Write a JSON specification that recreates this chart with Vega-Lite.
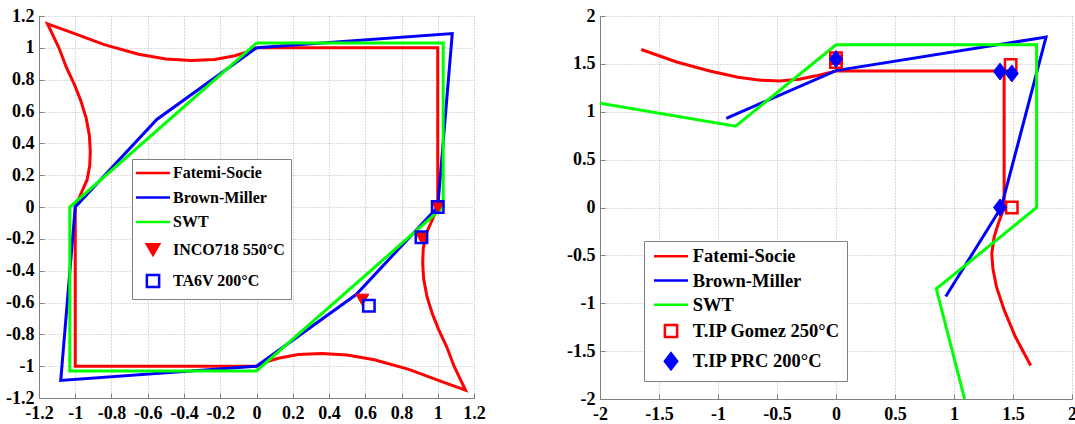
{
  "$schema": "https://vega.github.io/schema/vega-lite/v6.json",
  "autosize": {"type": "pad"},
  "padding": {"left": 5, "top": 7, "right": 0, "bottom": 0},
  "background": "white",
  "config": {
    "font": "Liberation Serif",
    "view": {"stroke": null},
    "axis": {"labelOverlap": false, "labelSeparation": -100}
  },
  "bounds": "flush",
  "spacing": 126,
  "resolve": {
    "scale": {"color": "independent", "shape": "independent", "fill": "independent"},
    "legend": {"color": "independent", "shape": "independent", "fill": "independent"}
  },
  "datasets": {
    "leftLines": [
      {"series": "Fatemi-Socie", "ord": 0, "x": 0, "y": 1},
      {"series": "Fatemi-Socie", "ord": 1, "x": 1, "y": 1},
      {"series": "Fatemi-Socie", "ord": 2, "x": 1, "y": 0},
      {"series": "Fatemi-Socie", "ord": 3, "x": 0.97, "y": -0.08},
      {"series": "Fatemi-Socie", "ord": 4, "x": 0.935, "y": -0.17},
      {"series": "Fatemi-Socie", "ord": 5, "x": 0.92, "y": -0.26},
      {"series": "Fatemi-Socie", "ord": 6, "x": 0.917, "y": -0.35},
      {"series": "Fatemi-Socie", "ord": 7, "x": 0.922, "y": -0.45},
      {"series": "Fatemi-Socie", "ord": 8, "x": 0.94, "y": -0.56},
      {"series": "Fatemi-Socie", "ord": 9, "x": 0.97, "y": -0.67},
      {"series": "Fatemi-Socie", "ord": 10, "x": 1.005, "y": -0.77},
      {"series": "Fatemi-Socie", "ord": 11, "x": 1.05, "y": -0.88},
      {"series": "Fatemi-Socie", "ord": 12, "x": 1.09, "y": -1.0},
      {"series": "Fatemi-Socie", "ord": 13, "x": 1.153, "y": -1.151},
      {"series": "Fatemi-Socie", "ord": 14, "x": 1.03, "y": -1.1},
      {"series": "Fatemi-Socie", "ord": 15, "x": 0.84, "y": -1.02},
      {"series": "Fatemi-Socie", "ord": 16, "x": 0.65, "y": -0.96},
      {"series": "Fatemi-Socie", "ord": 17, "x": 0.5, "y": -0.93},
      {"series": "Fatemi-Socie", "ord": 18, "x": 0.36, "y": -0.92},
      {"series": "Fatemi-Socie", "ord": 19, "x": 0.23, "y": -0.927},
      {"series": "Fatemi-Socie", "ord": 20, "x": 0.12, "y": -0.95},
      {"series": "Fatemi-Socie", "ord": 21, "x": 0.05, "y": -0.975},
      {"series": "Fatemi-Socie", "ord": 22, "x": 0, "y": -1},
      {"series": "Fatemi-Socie", "ord": 23, "x": -1, "y": -1},
      {"series": "Fatemi-Socie", "ord": 24, "x": -1, "y": 0},
      {"series": "Fatemi-Socie", "ord": 25, "x": -0.97, "y": 0.08},
      {"series": "Fatemi-Socie", "ord": 26, "x": -0.935, "y": 0.17},
      {"series": "Fatemi-Socie", "ord": 27, "x": -0.92, "y": 0.26},
      {"series": "Fatemi-Socie", "ord": 28, "x": -0.917, "y": 0.35},
      {"series": "Fatemi-Socie", "ord": 29, "x": -0.922, "y": 0.45},
      {"series": "Fatemi-Socie", "ord": 30, "x": -0.94, "y": 0.56},
      {"series": "Fatemi-Socie", "ord": 31, "x": -0.97, "y": 0.67},
      {"series": "Fatemi-Socie", "ord": 32, "x": -1.005, "y": 0.77},
      {"series": "Fatemi-Socie", "ord": 33, "x": -1.05, "y": 0.88},
      {"series": "Fatemi-Socie", "ord": 34, "x": -1.09, "y": 1.0},
      {"series": "Fatemi-Socie", "ord": 35, "x": -1.153, "y": 1.151},
      {"series": "Fatemi-Socie", "ord": 36, "x": -1.03, "y": 1.1},
      {"series": "Fatemi-Socie", "ord": 37, "x": -0.84, "y": 1.02},
      {"series": "Fatemi-Socie", "ord": 38, "x": -0.65, "y": 0.96},
      {"series": "Fatemi-Socie", "ord": 39, "x": -0.5, "y": 0.93},
      {"series": "Fatemi-Socie", "ord": 40, "x": -0.36, "y": 0.92},
      {"series": "Fatemi-Socie", "ord": 41, "x": -0.23, "y": 0.927},
      {"series": "Fatemi-Socie", "ord": 42, "x": -0.12, "y": 0.95},
      {"series": "Fatemi-Socie", "ord": 43, "x": -0.05, "y": 0.975},
      {"series": "Fatemi-Socie", "ord": 44, "x": 0, "y": 1},
      {"series": "Brown-Miller", "ord": 0, "x": 0, "y": 1},
      {"series": "Brown-Miller", "ord": 1, "x": 1.08, "y": 1.09},
      {"series": "Brown-Miller", "ord": 2, "x": 1, "y": 0},
      {"series": "Brown-Miller", "ord": 3, "x": 0.55, "y": -0.55},
      {"series": "Brown-Miller", "ord": 4, "x": 0, "y": -1},
      {"series": "Brown-Miller", "ord": 5, "x": -1.08, "y": -1.09},
      {"series": "Brown-Miller", "ord": 6, "x": -1, "y": 0},
      {"series": "Brown-Miller", "ord": 7, "x": -0.55, "y": 0.55},
      {"series": "Brown-Miller", "ord": 8, "x": 0, "y": 1},
      {"series": "SWT", "ord": 0, "x": 0, "y": 1.03},
      {"series": "SWT", "ord": 1, "x": 1.03, "y": 1.03},
      {"series": "SWT", "ord": 2, "x": 1.03, "y": 0},
      {"series": "SWT", "ord": 3, "x": 0, "y": -1.03},
      {"series": "SWT", "ord": 4, "x": -1.03, "y": -1.03},
      {"series": "SWT", "ord": 5, "x": -1.03, "y": 0},
      {"series": "SWT", "ord": 6, "x": 0, "y": 1.03}
    ],
    "leftPoints": [
      {"series": "INCO718 550°C", "x": 1, "y": 0},
      {"series": "INCO718 550°C", "x": 0.91, "y": -0.19},
      {"series": "INCO718 550°C", "x": 0.584, "y": -0.583},
      {"series": "TA6V 200°C", "x": 1, "y": 0},
      {"series": "TA6V 200°C", "x": 0.91, "y": -0.19},
      {"series": "TA6V 200°C", "x": 0.62, "y": -0.62}
    ],
    "rightLines": [
      {"series": "Fatemi-Socie", "ord": 0, "x": -1.65, "y": 1.65},
      {"series": "Fatemi-Socie", "ord": 1, "x": -1.35, "y": 1.52},
      {"series": "Fatemi-Socie", "ord": 2, "x": -1.07, "y": 1.425},
      {"series": "Fatemi-Socie", "ord": 3, "x": -0.83, "y": 1.36},
      {"series": "Fatemi-Socie", "ord": 4, "x": -0.64, "y": 1.33},
      {"series": "Fatemi-Socie", "ord": 5, "x": -0.48, "y": 1.32},
      {"series": "Fatemi-Socie", "ord": 6, "x": -0.31, "y": 1.34},
      {"series": "Fatemi-Socie", "ord": 7, "x": -0.17, "y": 1.375},
      {"series": "Fatemi-Socie", "ord": 8, "x": 0, "y": 1.425},
      {"series": "Fatemi-Socie", "ord": 9, "x": 1.425, "y": 1.425},
      {"series": "Fatemi-Socie", "ord": 10, "x": 1.425, "y": 0},
      {"series": "Fatemi-Socie", "ord": 11, "x": 1.375, "y": -0.17},
      {"series": "Fatemi-Socie", "ord": 12, "x": 1.34, "y": -0.31},
      {"series": "Fatemi-Socie", "ord": 13, "x": 1.32, "y": -0.48},
      {"series": "Fatemi-Socie", "ord": 14, "x": 1.33, "y": -0.64},
      {"series": "Fatemi-Socie", "ord": 15, "x": 1.36, "y": -0.83},
      {"series": "Fatemi-Socie", "ord": 16, "x": 1.425, "y": -1.07},
      {"series": "Fatemi-Socie", "ord": 17, "x": 1.52, "y": -1.35},
      {"series": "Fatemi-Socie", "ord": 18, "x": 1.65, "y": -1.65},
      {"series": "Brown-Miller", "ord": 0, "x": -0.93, "y": 0.93},
      {"series": "Brown-Miller", "ord": 1, "x": 0, "y": 1.43},
      {"series": "Brown-Miller", "ord": 2, "x": 1.78, "y": 1.78},
      {"series": "Brown-Miller", "ord": 3, "x": 1.4, "y": 0},
      {"series": "Brown-Miller", "ord": 4, "x": 0.93, "y": -0.93},
      {"series": "SWT", "ord": 0, "x": -2, "y": 1.09},
      {"series": "SWT", "ord": 1, "x": -0.85, "y": 0.85},
      {"series": "SWT", "ord": 2, "x": 0, "y": 1.7},
      {"series": "SWT", "ord": 3, "x": 1.7, "y": 1.7},
      {"series": "SWT", "ord": 4, "x": 1.7, "y": 0},
      {"series": "SWT", "ord": 5, "x": 0.85, "y": -0.85},
      {"series": "SWT", "ord": 6, "x": 1.09, "y": -2}
    ],
    "rightPoints": [
      {"series": "T.IP Gomez 250°C", "x": 0, "y": 1.56},
      {"series": "T.IP Gomez 250°C", "x": 0, "y": 1.52},
      {"series": "T.IP Gomez 250°C", "x": 1.48, "y": 1.49},
      {"series": "T.IP Gomez 250°C", "x": 1.49, "y": 0},
      {"series": "T.IP PRC 200°C", "x": 0, "y": 1.55},
      {"series": "T.IP PRC 200°C", "x": 1.39, "y": 1.42},
      {"series": "T.IP PRC 200°C", "x": 1.49, "y": 1.4},
      {"series": "T.IP PRC 200°C", "x": 1.39, "y": 0}
    ]
  },
  "hconcat": [
    {
      "width": 435,
      "height": 382,
      "resolve": {"axis": {"x": "independent", "y": "independent"}},
      "layer": [
        {
          "data": {"name": "leftLines"},
          "mark": {"type": "line", "strokeWidth": 3, "clip": true},
          "encoding": {
            "x": {"field": "x", "type": "quantitative", "scale": {"domain": [-1.2, 1.2], "nice": false, "zero": false},
              "axis": {"orient": "bottom", "values": [-1.2, -0.8, -0.4, 0, 0.4, 0.8, 1.2], "title": null,
                "labelFont": "Liberation Serif", "labelFontWeight": "bold", "labelFontSize": 18, "labelColor": "#000000",
                "labelOverlap": false, "labelFlush": false, "labelBound": false, "labelPadding": 11, "labelExpr": "'' + datum.value",
                "domainColor": "#808080", "tickColor": "#808080", "tickSize": -5,
                "grid": true, "gridColor": "#b4b4b4", "gridDash": [1, 2], "gridWidth": 1}},
            "y": {"field": "y", "type": "quantitative", "scale": {"domain": [-1.2, 1.2], "nice": false, "zero": false},
              "axis": {"orient": "left", "values": [-1.2, -0.8, -0.4, 0, 0.4, 0.8, 1.2], "title": null,
                "labelFont": "Liberation Serif", "labelFontWeight": "bold", "labelFontSize": 18, "labelColor": "#000000",
                "labelOverlap": false, "labelFlush": false, "labelBound": false, "labelPadding": 10, "labelExpr": "'' + datum.value",
                "domainColor": "#808080", "tickColor": "#808080", "tickSize": -5,
                "grid": true, "gridColor": "#b4b4b4", "gridDash": [1, 2], "gridWidth": 1}},
            "order": {"field": "ord", "type": "quantitative"},
            "color": {
              "field": "series", "type": "nominal",
              "scale": {"domain": ["Fatemi-Socie", "Brown-Miller", "SWT", "INCO718 550°C", "TA6V 200°C"], "range": ["#ff0000", "#0000ff", "#00ff00", "#ff0000", "#0000ff"]},
              "legend": {
                "title": null, "orient": "none", "legendX": 93, "legendY": 143,
                "labelFont": "Liberation Serif", "labelFontSize": 16, "labelFontWeight": "bold", "labelColor": "#000000",
                "symbolSize": 150, "symbolStrokeWidth": 2.5, "symbolOffset": 7, "labelOffset": 12, "symbolOpacity": 1,
                "rowPadding": 8.5, "padding": 6, "strokeColor": "#808080", "fillColor": "#ffffff", "cornerRadius": 0,
                "labelLimit": 400, "labelExpr": "datum.label + '\u00a0\u00a0\u00a0\u00a0\u00a0\u00a0\u00a0\u00a0\u00a0\u00a0'"
              }
            }
          }
        },
        {
          "data": {"name": "leftPoints"},
          "transform": [{"filter": "datum.series === 'INCO718 550°C'"}],
          "mark": {"type": "point", "filled": false, "size": 170, "strokeWidth": 1, "opacity": 1},
          "encoding": {
            "x": {"field": "x", "type": "quantitative",
              "axis": {"orient": "bottom", "values": [-1, -0.6, -0.2, 0.2, 0.6, 1], "title": null,
                "labelFont": "Liberation Serif", "labelFontWeight": "bold", "labelFontSize": 18, "labelColor": "#000000",
                "labelOverlap": false, "labelFlush": false, "labelBound": false, "labelPadding": 11, "labelExpr": "'' + datum.value",
                "domainColor": "#808080", "tickColor": "#808080", "tickSize": -5,
                "grid": true, "gridColor": "#b4b4b4", "gridDash": [1, 2], "gridWidth": 1}},
            "y": {"field": "y", "type": "quantitative",
              "axis": {"orient": "left", "values": [-1, -0.6, -0.2, 0.2, 0.6, 1], "title": null,
                "labelFont": "Liberation Serif", "labelFontWeight": "bold", "labelFontSize": 18, "labelColor": "#000000",
                "labelOverlap": false, "labelFlush": false, "labelBound": false, "labelPadding": 10, "labelExpr": "'' + datum.value",
                "domainColor": "#808080", "tickColor": "#808080", "tickSize": -5,
                "grid": true, "gridColor": "#b4b4b4", "gridDash": [1, 2], "gridWidth": 1}},
            "color": {"field": "series", "type": "nominal"},
            "fill": {
              "field": "series", "type": "nominal",
              "scale": {"domain": ["Fatemi-Socie", "Brown-Miller", "SWT", "INCO718 550°C", "TA6V 200°C"], "range": ["transparent", "transparent", "transparent", "#ff0000", "transparent"]},
              "legend": {"labelExpr": "datum.label + '\u00a0\u00a0\u00a0\u00a0\u00a0\u00a0\u00a0\u00a0\u00a0\u00a0'", "labelLimit": 400}
            },
            "shape": {
              "field": "series", "type": "nominal",
              "scale": {"domain": ["Fatemi-Socie", "Brown-Miller", "SWT", "INCO718 550°C", "TA6V 200°C"], "range": ["M-2.78,0H2.78", "M-2.78,0H2.78", "M-2.78,0H2.78", "triangle-down", "square"]},
              "legend": {"labelExpr": "datum.label + '\u00a0\u00a0\u00a0\u00a0\u00a0\u00a0\u00a0\u00a0\u00a0\u00a0'", "labelLimit": 400}
            }
          }
        },
        {
          "data": {"name": "leftPoints"},
          "transform": [{"filter": "datum.series === 'TA6V 200°C'"}],
          "mark": {"type": "point", "filled": false, "size": 130, "strokeWidth": 2.5, "opacity": 1},
          "encoding": {
            "x": {"field": "x", "type": "quantitative", "axis": null},
            "y": {"field": "y", "type": "quantitative", "axis": null},
            "color": {"field": "series", "type": "nominal"},
            "fill": {"field": "series", "type": "nominal"},
            "shape": {"field": "series", "type": "nominal"}
          }
        }
      ]
    },
    {
      "width": 472,
      "height": 383,
      "layer": [
        {
          "data": {"name": "rightLines"},
          "mark": {"type": "line", "strokeWidth": 3, "clip": true},
          "encoding": {
            "x": {"field": "x", "type": "quantitative", "scale": {"domain": [-2, 2], "nice": false, "zero": false},
              "axis": {"values": [-2, -1.5, -1, -0.5, 0, 0.5, 1, 1.5, 2], "title": null,
                "labelFont": "Liberation Serif", "labelFontWeight": "bold", "labelFontSize": 18, "labelColor": "#000000",
                "labelOverlap": false, "labelFlush": false, "labelBound": false, "labelPadding": 11, "labelExpr": "'' + datum.value",
                "domainColor": "#808080", "tickColor": "#808080", "tickSize": -5,
                "grid": true, "gridColor": "#b4b4b4", "gridDash": [1, 2], "gridWidth": 1}},
            "y": {"field": "y", "type": "quantitative", "scale": {"domain": [-2, 2], "nice": false, "zero": false},
              "axis": {"values": [-2, -1.5, -1, -0.5, 0, 0.5, 1, 1.5, 2], "title": null,
                "labelFont": "Liberation Serif", "labelFontWeight": "bold", "labelFontSize": 18, "labelColor": "#000000",
                "labelOverlap": false, "labelFlush": false, "labelBound": false, "labelPadding": 10, "labelExpr": "'' + datum.value",
                "domainColor": "#808080", "tickColor": "#808080", "tickSize": -5,
                "grid": true, "gridColor": "#b4b4b4", "gridDash": [1, 2], "gridWidth": 1}},
            "order": {"field": "ord", "type": "quantitative"},
            "color": {
              "field": "series", "type": "nominal",
              "scale": {"domain": ["Fatemi-Socie", "Brown-Miller", "SWT", "T.IP Gomez 250°C", "T.IP PRC 200°C"], "range": ["#ff0000", "#0000ff", "#00ff00", "#ff0000", "#0000ff"]},
              "legend": {
                "title": null, "orient": "none", "legendX": 44, "legendY": 225,
                "labelFont": "Liberation Serif", "labelFontSize": 18.5, "labelFontWeight": "bold", "labelColor": "#000000",
                "symbolSize": 150, "symbolStrokeWidth": 2.5, "symbolOffset": 11.75, "labelOffset": 12.5, "symbolOpacity": 1,
                "rowPadding": 5.25, "padding": 6, "strokeColor": "#808080", "fillColor": "#ffffff", "cornerRadius": 0,
                "labelLimit": 400, "labelExpr": "datum.label + '\u00a0\u00a0\u00a0\u00a0\u00a0\u00a0\u00a0\u00a0'"
              }
            }
          }
        },
        {
          "data": {"name": "rightPoints"},
          "transform": [{"filter": "datum.series === 'T.IP Gomez 250°C'"}],
          "mark": {"type": "point", "filled": false, "size": 130, "strokeWidth": 2.5, "opacity": 1},
          "encoding": {
            "x": {"field": "x", "type": "quantitative"},
            "y": {"field": "y", "type": "quantitative"},
            "color": {"field": "series", "type": "nominal"},
            "fill": {
              "field": "series", "type": "nominal",
              "scale": {"domain": ["Fatemi-Socie", "Brown-Miller", "SWT", "T.IP Gomez 250°C", "T.IP PRC 200°C"], "range": ["transparent", "transparent", "transparent", "transparent", "#0000ff"]},
              "legend": {"labelExpr": "datum.label + '\u00a0\u00a0\u00a0\u00a0\u00a0\u00a0\u00a0\u00a0'", "labelLimit": 400}
            },
            "shape": {
              "field": "series", "type": "nominal",
              "scale": {"domain": ["Fatemi-Socie", "Brown-Miller", "SWT", "T.IP Gomez 250°C", "T.IP PRC 200°C"], "range": ["M-2.78,0H2.78", "M-2.78,0H2.78", "M-2.78,0H2.78", "square", "M0,-1.3L1,0L0,1.3L-1,0Z"]},
              "legend": {"labelExpr": "datum.label + '\u00a0\u00a0\u00a0\u00a0\u00a0\u00a0\u00a0\u00a0'", "labelLimit": 400}
            }
          }
        },
        {
          "data": {"name": "rightPoints"},
          "transform": [{"filter": "datum.series === 'T.IP PRC 200°C'"}],
          "mark": {"type": "point", "filled": false, "size": 169, "strokeWidth": 1, "opacity": 1},
          "encoding": {
            "x": {"field": "x", "type": "quantitative"},
            "y": {"field": "y", "type": "quantitative"},
            "color": {"field": "series", "type": "nominal"},
            "fill": {"field": "series", "type": "nominal"},
            "shape": {"field": "series", "type": "nominal"}
          }
        }
      ]
    }
  ]
}
